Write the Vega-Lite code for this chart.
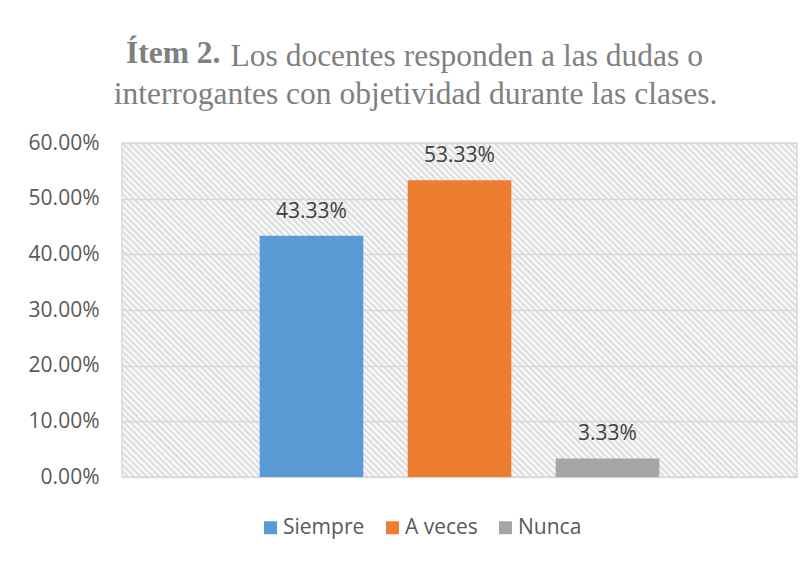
{
  "$schema": "https://vega.github.io/schema/vega-lite/v6.json",
  "background": "white",
  "padding": {"left": 27, "top": 38, "right": 10, "bottom": 10},
  "title": {
    "text": "Ítem 2.",
    "font": "Liberation Serif",
    "fontSize": 31.5,
    "fontWeight": "bold",
    "color": "#7f7f7f",
    "anchor": "start",
    "frame": "group",
    "baseline": "alphabetic",
    "offset": 0,
    "dx": 4,
    "dy": 55
  },
  "vconcat": [
    {
      "width": 675,
      "height": 334,
      "title": {
        "text": ["\u200b\u00a0\u00a0\u00a0\u00a0\u00a0\u00a0\u00a0\u00a0\u00a0\u00a0\u00a0\u00a0\u00a0Los docentes responden a las dudas o", "interrogantes con objetividad durante las clases."],
        "font": "Liberation Serif",
        "fontSize": 31.5,
        "fontWeight": "normal",
        "lineHeight": 38,
        "color": "#7f7f7f",
        "anchor": "middle",
        "baseline": "bottom",
        "offset": -10,
        "dx": -44
      },
      "data": {
        "values": [
          {"serie": "Siempre", "valor": 0.4333},
          {"serie": "A veces", "valor": 0.5333},
          {"serie": "Nunca", "valor": 0.0333}
        ]
      },
      "encoding": {
        "x": {
          "field": "serie",
          "type": "nominal",
          "sort": ["Siempre", "A veces", "Nunca"],
          "scale": {"paddingInner": 0.3, "paddingOuter": 0.93},
          "axis": null
        },
        "y": {
          "field": "valor",
          "type": "quantitative",
          "scale": {"domain": [0, 0.6]},
          "axis": {
            "title": null,
            "format": ".2%",
            "values": [0, 0.1, 0.2, 0.3, 0.4, 0.5, 0.6],
            "labelFont": "Open Sans",
            "labelFontSize": 21,
            "labelColor": "#595959",
            "labelPadding": 23,
            "ticks": false,
            "domain": false,
            "gridColor": "#d9d9d9",
            "gridWidth": 1.5
          }
        }
      },
      "layer": [
        {
          "mark": {"type": "bar"},
          "encoding": {
            "color": {
              "field": "serie",
              "type": "nominal",
              "scale": {"domain": ["Siempre", "A veces", "Nunca"], "range": ["#5b9bd5", "#ed7d31", "#a5a5a5"]},
              "legend": {
                "title": null,
                "orient": "none",
                "legendX": 138,
                "legendY": 374,
                "direction": "horizontal",
                "symbolType": "square",
                "symbolSize": 169,
                "symbolStrokeWidth": 0,
                "labelFont": "Open Sans",
                "labelFontSize": 21,
                "labelColor": "#595959",
                "labelOffset": 2,
                "columnPadding": 17,
                "padding": 0
              }
            }
          }
        },
        {
          "mark": {"type": "text", "baseline": "alphabetic", "dy": -18, "font": "Open Sans", "fontSize": 21, "color": "#404040"},
          "encoding": {
            "text": {"field": "valor", "type": "quantitative", "format": ".2%"}
          }
        }
      ]
    }
  ],
  "config": {
    "view": {
      "stroke": "#d9d9d9",
      "strokeWidth": 1.5,
      "fill": {
        "gradient": "linear",
        "x1": 0, "y1": 1, "x2": 1.2008, "y2": 0.4058,
        "stops": [
{"offset":0,"color":"#d9d9d9"},{"offset":0.0031,"color":"#ffffff"},{"offset":0.00625,"color":"#d9d9d9"},{"offset":0.0094,"color":"#ffffff"},{"offset":0.0125,"color":"#d9d9d9"},{"offset":0.0156,"color":"#ffffff"},{"offset":0.01875,"color":"#d9d9d9"},{"offset":0.0219,"color":"#ffffff"},{"offset":0.025,"color":"#d9d9d9"},{"offset":0.0281,"color":"#ffffff"},{"offset":0.03125,"color":"#d9d9d9"},{"offset":0.0344,"color":"#ffffff"},{"offset":0.0375,"color":"#d9d9d9"},{"offset":0.0406,"color":"#ffffff"},{"offset":0.04375,"color":"#d9d9d9"},{"offset":0.0469,"color":"#ffffff"},
{"offset":0.05,"color":"#d9d9d9"},{"offset":0.0531,"color":"#ffffff"},{"offset":0.05625,"color":"#d9d9d9"},{"offset":0.0594,"color":"#ffffff"},{"offset":0.0625,"color":"#d9d9d9"},{"offset":0.0656,"color":"#ffffff"},{"offset":0.06875,"color":"#d9d9d9"},{"offset":0.0719,"color":"#ffffff"},{"offset":0.075,"color":"#d9d9d9"},{"offset":0.0781,"color":"#ffffff"},{"offset":0.08125,"color":"#d9d9d9"},{"offset":0.0844,"color":"#ffffff"},{"offset":0.0875,"color":"#d9d9d9"},{"offset":0.0906,"color":"#ffffff"},{"offset":0.09375,"color":"#d9d9d9"},{"offset":0.0969,"color":"#ffffff"},
{"offset":0.1,"color":"#d9d9d9"},{"offset":0.1031,"color":"#ffffff"},{"offset":0.10625,"color":"#d9d9d9"},{"offset":0.1094,"color":"#ffffff"},{"offset":0.1125,"color":"#d9d9d9"},{"offset":0.1156,"color":"#ffffff"},{"offset":0.11875,"color":"#d9d9d9"},{"offset":0.1219,"color":"#ffffff"},{"offset":0.125,"color":"#d9d9d9"},{"offset":0.1281,"color":"#ffffff"},{"offset":0.13125,"color":"#d9d9d9"},{"offset":0.1344,"color":"#ffffff"},{"offset":0.1375,"color":"#d9d9d9"},{"offset":0.1406,"color":"#ffffff"},{"offset":0.14375,"color":"#d9d9d9"},{"offset":0.1469,"color":"#ffffff"},
{"offset":0.15,"color":"#d9d9d9"},{"offset":0.1531,"color":"#ffffff"},{"offset":0.15625,"color":"#d9d9d9"},{"offset":0.1594,"color":"#ffffff"},{"offset":0.1625,"color":"#d9d9d9"},{"offset":0.1656,"color":"#ffffff"},{"offset":0.16875,"color":"#d9d9d9"},{"offset":0.1719,"color":"#ffffff"},{"offset":0.175,"color":"#d9d9d9"},{"offset":0.1781,"color":"#ffffff"},{"offset":0.18125,"color":"#d9d9d9"},{"offset":0.1844,"color":"#ffffff"},{"offset":0.1875,"color":"#d9d9d9"},{"offset":0.1906,"color":"#ffffff"},{"offset":0.19375,"color":"#d9d9d9"},{"offset":0.1969,"color":"#ffffff"},
{"offset":0.2,"color":"#d9d9d9"},{"offset":0.2031,"color":"#ffffff"},{"offset":0.20625,"color":"#d9d9d9"},{"offset":0.2094,"color":"#ffffff"},{"offset":0.2125,"color":"#d9d9d9"},{"offset":0.2156,"color":"#ffffff"},{"offset":0.21875,"color":"#d9d9d9"},{"offset":0.2219,"color":"#ffffff"},{"offset":0.225,"color":"#d9d9d9"},{"offset":0.2281,"color":"#ffffff"},{"offset":0.23125,"color":"#d9d9d9"},{"offset":0.2344,"color":"#ffffff"},{"offset":0.2375,"color":"#d9d9d9"},{"offset":0.2406,"color":"#ffffff"},{"offset":0.24375,"color":"#d9d9d9"},{"offset":0.2469,"color":"#ffffff"},
{"offset":0.25,"color":"#d9d9d9"},{"offset":0.2531,"color":"#ffffff"},{"offset":0.25625,"color":"#d9d9d9"},{"offset":0.2594,"color":"#ffffff"},{"offset":0.2625,"color":"#d9d9d9"},{"offset":0.2656,"color":"#ffffff"},{"offset":0.26875,"color":"#d9d9d9"},{"offset":0.2719,"color":"#ffffff"},{"offset":0.275,"color":"#d9d9d9"},{"offset":0.2781,"color":"#ffffff"},{"offset":0.28125,"color":"#d9d9d9"},{"offset":0.2844,"color":"#ffffff"},{"offset":0.2875,"color":"#d9d9d9"},{"offset":0.2906,"color":"#ffffff"},{"offset":0.29375,"color":"#d9d9d9"},{"offset":0.2969,"color":"#ffffff"},
{"offset":0.3,"color":"#d9d9d9"},{"offset":0.3031,"color":"#ffffff"},{"offset":0.30625,"color":"#d9d9d9"},{"offset":0.3094,"color":"#ffffff"},{"offset":0.3125,"color":"#d9d9d9"},{"offset":0.3156,"color":"#ffffff"},{"offset":0.31875,"color":"#d9d9d9"},{"offset":0.3219,"color":"#ffffff"},{"offset":0.325,"color":"#d9d9d9"},{"offset":0.3281,"color":"#ffffff"},{"offset":0.33125,"color":"#d9d9d9"},{"offset":0.3344,"color":"#ffffff"},{"offset":0.3375,"color":"#d9d9d9"},{"offset":0.3406,"color":"#ffffff"},{"offset":0.34375,"color":"#d9d9d9"},{"offset":0.3469,"color":"#ffffff"},
{"offset":0.35,"color":"#d9d9d9"},{"offset":0.3531,"color":"#ffffff"},{"offset":0.35625,"color":"#d9d9d9"},{"offset":0.3594,"color":"#ffffff"},{"offset":0.3625,"color":"#d9d9d9"},{"offset":0.3656,"color":"#ffffff"},{"offset":0.36875,"color":"#d9d9d9"},{"offset":0.3719,"color":"#ffffff"},{"offset":0.375,"color":"#d9d9d9"},{"offset":0.3781,"color":"#ffffff"},{"offset":0.38125,"color":"#d9d9d9"},{"offset":0.3844,"color":"#ffffff"},{"offset":0.3875,"color":"#d9d9d9"},{"offset":0.3906,"color":"#ffffff"},{"offset":0.39375,"color":"#d9d9d9"},{"offset":0.3969,"color":"#ffffff"},
{"offset":0.4,"color":"#d9d9d9"},{"offset":0.4031,"color":"#ffffff"},{"offset":0.40625,"color":"#d9d9d9"},{"offset":0.4094,"color":"#ffffff"},{"offset":0.4125,"color":"#d9d9d9"},{"offset":0.4156,"color":"#ffffff"},{"offset":0.41875,"color":"#d9d9d9"},{"offset":0.4219,"color":"#ffffff"},{"offset":0.425,"color":"#d9d9d9"},{"offset":0.4281,"color":"#ffffff"},{"offset":0.43125,"color":"#d9d9d9"},{"offset":0.4344,"color":"#ffffff"},{"offset":0.4375,"color":"#d9d9d9"},{"offset":0.4406,"color":"#ffffff"},{"offset":0.44375,"color":"#d9d9d9"},{"offset":0.4469,"color":"#ffffff"},
{"offset":0.45,"color":"#d9d9d9"},{"offset":0.4531,"color":"#ffffff"},{"offset":0.45625,"color":"#d9d9d9"},{"offset":0.4594,"color":"#ffffff"},{"offset":0.4625,"color":"#d9d9d9"},{"offset":0.4656,"color":"#ffffff"},{"offset":0.46875,"color":"#d9d9d9"},{"offset":0.4719,"color":"#ffffff"},{"offset":0.475,"color":"#d9d9d9"},{"offset":0.4781,"color":"#ffffff"},{"offset":0.48125,"color":"#d9d9d9"},{"offset":0.4844,"color":"#ffffff"},{"offset":0.4875,"color":"#d9d9d9"},{"offset":0.4906,"color":"#ffffff"},{"offset":0.49375,"color":"#d9d9d9"},{"offset":0.4969,"color":"#ffffff"},
{"offset":0.5,"color":"#d9d9d9"},{"offset":0.5031,"color":"#ffffff"},{"offset":0.50625,"color":"#d9d9d9"},{"offset":0.5094,"color":"#ffffff"},{"offset":0.5125,"color":"#d9d9d9"},{"offset":0.5156,"color":"#ffffff"},{"offset":0.51875,"color":"#d9d9d9"},{"offset":0.5219,"color":"#ffffff"},{"offset":0.525,"color":"#d9d9d9"},{"offset":0.5281,"color":"#ffffff"},{"offset":0.53125,"color":"#d9d9d9"},{"offset":0.5344,"color":"#ffffff"},{"offset":0.5375,"color":"#d9d9d9"},{"offset":0.5406,"color":"#ffffff"},{"offset":0.54375,"color":"#d9d9d9"},{"offset":0.5469,"color":"#ffffff"},
{"offset":0.55,"color":"#d9d9d9"},{"offset":0.5531,"color":"#ffffff"},{"offset":0.55625,"color":"#d9d9d9"},{"offset":0.5594,"color":"#ffffff"},{"offset":0.5625,"color":"#d9d9d9"},{"offset":0.5656,"color":"#ffffff"},{"offset":0.56875,"color":"#d9d9d9"},{"offset":0.5719,"color":"#ffffff"},{"offset":0.575,"color":"#d9d9d9"},{"offset":0.5781,"color":"#ffffff"},{"offset":0.58125,"color":"#d9d9d9"},{"offset":0.5844,"color":"#ffffff"},{"offset":0.5875,"color":"#d9d9d9"},{"offset":0.5906,"color":"#ffffff"},{"offset":0.59375,"color":"#d9d9d9"},{"offset":0.5969,"color":"#ffffff"},
{"offset":0.6,"color":"#d9d9d9"},{"offset":0.6031,"color":"#ffffff"},{"offset":0.60625,"color":"#d9d9d9"},{"offset":0.6094,"color":"#ffffff"},{"offset":0.6125,"color":"#d9d9d9"},{"offset":0.6156,"color":"#ffffff"},{"offset":0.61875,"color":"#d9d9d9"},{"offset":0.6219,"color":"#ffffff"},{"offset":0.625,"color":"#d9d9d9"},{"offset":0.6281,"color":"#ffffff"},{"offset":0.63125,"color":"#d9d9d9"},{"offset":0.6344,"color":"#ffffff"},{"offset":0.6375,"color":"#d9d9d9"},{"offset":0.6406,"color":"#ffffff"},{"offset":0.64375,"color":"#d9d9d9"},{"offset":0.6469,"color":"#ffffff"},
{"offset":0.65,"color":"#d9d9d9"},{"offset":0.6531,"color":"#ffffff"},{"offset":0.65625,"color":"#d9d9d9"},{"offset":0.6594,"color":"#ffffff"},{"offset":0.6625,"color":"#d9d9d9"},{"offset":0.6656,"color":"#ffffff"},{"offset":0.66875,"color":"#d9d9d9"},{"offset":0.6719,"color":"#ffffff"},{"offset":0.675,"color":"#d9d9d9"},{"offset":0.6781,"color":"#ffffff"},{"offset":0.68125,"color":"#d9d9d9"},{"offset":0.6844,"color":"#ffffff"},{"offset":0.6875,"color":"#d9d9d9"},{"offset":0.6906,"color":"#ffffff"},{"offset":0.69375,"color":"#d9d9d9"},{"offset":0.6969,"color":"#ffffff"},
{"offset":0.7,"color":"#d9d9d9"},{"offset":0.7031,"color":"#ffffff"},{"offset":0.70625,"color":"#d9d9d9"},{"offset":0.7094,"color":"#ffffff"},{"offset":0.7125,"color":"#d9d9d9"},{"offset":0.7156,"color":"#ffffff"},{"offset":0.71875,"color":"#d9d9d9"},{"offset":0.7219,"color":"#ffffff"},{"offset":0.725,"color":"#d9d9d9"},{"offset":0.7281,"color":"#ffffff"},{"offset":0.73125,"color":"#d9d9d9"},{"offset":0.7344,"color":"#ffffff"},{"offset":0.7375,"color":"#d9d9d9"},{"offset":0.7406,"color":"#ffffff"},{"offset":0.74375,"color":"#d9d9d9"},{"offset":0.7469,"color":"#ffffff"},
{"offset":0.75,"color":"#d9d9d9"},{"offset":0.7531,"color":"#ffffff"},{"offset":0.75625,"color":"#d9d9d9"},{"offset":0.7594,"color":"#ffffff"},{"offset":0.7625,"color":"#d9d9d9"},{"offset":0.7656,"color":"#ffffff"},{"offset":0.76875,"color":"#d9d9d9"},{"offset":0.7719,"color":"#ffffff"},{"offset":0.775,"color":"#d9d9d9"},{"offset":0.7781,"color":"#ffffff"},{"offset":0.78125,"color":"#d9d9d9"},{"offset":0.7844,"color":"#ffffff"},{"offset":0.7875,"color":"#d9d9d9"},{"offset":0.7906,"color":"#ffffff"},{"offset":0.79375,"color":"#d9d9d9"},{"offset":0.7969,"color":"#ffffff"},
{"offset":0.8,"color":"#d9d9d9"},{"offset":0.8031,"color":"#ffffff"},{"offset":0.80625,"color":"#d9d9d9"},{"offset":0.8094,"color":"#ffffff"},{"offset":0.8125,"color":"#d9d9d9"},{"offset":0.8156,"color":"#ffffff"},{"offset":0.81875,"color":"#d9d9d9"},{"offset":0.8219,"color":"#ffffff"},{"offset":0.825,"color":"#d9d9d9"},{"offset":0.8281,"color":"#ffffff"},{"offset":0.83125,"color":"#d9d9d9"},{"offset":0.8344,"color":"#ffffff"},{"offset":0.8375,"color":"#d9d9d9"},{"offset":0.8406,"color":"#ffffff"},{"offset":0.84375,"color":"#d9d9d9"},{"offset":0.8469,"color":"#ffffff"},
{"offset":0.85,"color":"#d9d9d9"},{"offset":0.8531,"color":"#ffffff"},{"offset":0.85625,"color":"#d9d9d9"},{"offset":0.8594,"color":"#ffffff"},{"offset":0.8625,"color":"#d9d9d9"},{"offset":0.8656,"color":"#ffffff"},{"offset":0.86875,"color":"#d9d9d9"},{"offset":0.8719,"color":"#ffffff"},{"offset":0.875,"color":"#d9d9d9"},{"offset":0.8781,"color":"#ffffff"},{"offset":0.88125,"color":"#d9d9d9"},{"offset":0.8844,"color":"#ffffff"},{"offset":0.8875,"color":"#d9d9d9"},{"offset":0.8906,"color":"#ffffff"},{"offset":0.89375,"color":"#d9d9d9"},{"offset":0.8969,"color":"#ffffff"},
{"offset":0.9,"color":"#d9d9d9"},{"offset":0.9031,"color":"#ffffff"},{"offset":0.90625,"color":"#d9d9d9"},{"offset":0.9094,"color":"#ffffff"},{"offset":0.9125,"color":"#d9d9d9"},{"offset":0.9156,"color":"#ffffff"},{"offset":0.91875,"color":"#d9d9d9"},{"offset":0.9219,"color":"#ffffff"},{"offset":0.925,"color":"#d9d9d9"},{"offset":0.9281,"color":"#ffffff"},{"offset":0.93125,"color":"#d9d9d9"},{"offset":0.9344,"color":"#ffffff"},{"offset":0.9375,"color":"#d9d9d9"},{"offset":0.9406,"color":"#ffffff"},{"offset":0.94375,"color":"#d9d9d9"},{"offset":0.9469,"color":"#ffffff"},
{"offset":0.95,"color":"#d9d9d9"},{"offset":0.9531,"color":"#ffffff"},{"offset":0.95625,"color":"#d9d9d9"},{"offset":0.9594,"color":"#ffffff"},{"offset":0.9625,"color":"#d9d9d9"},{"offset":0.9656,"color":"#ffffff"},{"offset":0.96875,"color":"#d9d9d9"},{"offset":0.9719,"color":"#ffffff"},{"offset":0.975,"color":"#d9d9d9"},{"offset":0.9781,"color":"#ffffff"},{"offset":0.98125,"color":"#d9d9d9"},{"offset":0.9844,"color":"#ffffff"},{"offset":0.9875,"color":"#d9d9d9"},{"offset":0.9906,"color":"#ffffff"},{"offset":0.99375,"color":"#d9d9d9"},{"offset":0.9969,"color":"#ffffff"},
{"offset":1,"color":"#d9d9d9"}
        ]
      }
    }
  }
}
